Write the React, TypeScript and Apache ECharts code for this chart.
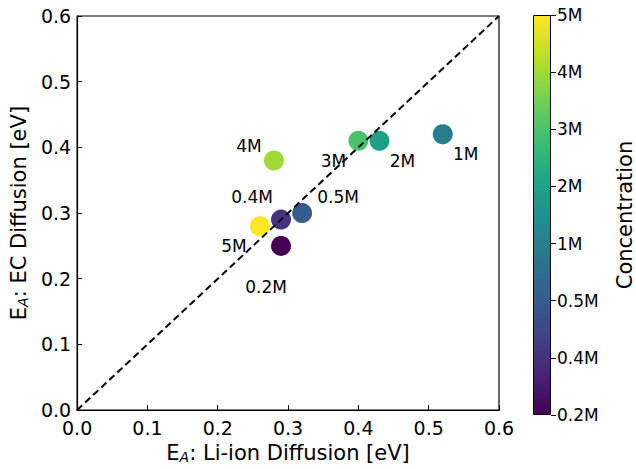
import React, { useEffect, useRef } from "react";
import * as echarts from "echarts";

const labels = ["0.2M", "0.4M", "0.5M", "1M", "2M", "3M", "4M", "5M"];
const liIon = [0.29, 0.29, 0.32, 0.52, 0.43, 0.4, 0.28, 0.26];
const ecDiff = [0.25, 0.29, 0.3, 0.42, 0.41, 0.41, 0.38, 0.28];
const colors = ["#440154", "#46337E", "#365C8D", "#277F8E", "#1FA187", "#4AC16D", "#9FDA3A", "#FDE725"];
const diagonal = [[0, 0], [0.6, 0.6]];
const viridisStops = ["#440154", "#482475", "#414487", "#355f8d", "#2a788e", "#21918c", "#22a884", "#44bf70", "#7ad151", "#bddf26", "#fde725"];

// label offsets (styling)
const labelOffsets: Record<string, number[]> = {
  "0.2M": [-15, 41],
  "0.4M": [-29, -23],
  "0.5M": [36, -16],
  "1M": [23, 20],
  "2M": [23, 20],
  "3M": [-25, 20],
  "4M": [-25, -15],
  "5M": [-26, 20],
};

const FONT = "DejaVu Sans";

export default function App() {
  const ref = useRef<HTMLDivElement>(null);
  useEffect(() => {
    const chart = echarts.init(ref.current!, null, { renderer: "svg" });
    const points = labels.map((l, i) => ({
      value: [liIon[i], ecDiff[i]],
      name: l,
      itemStyle: { color: colors[i], opacity: 1 },
      label: { offset: labelOffsets[l] },
    }));
    const tickText = { color: "#000", fontFamily: FONT, fontSize: 19 };
    const nameText = { color: "#000", fontFamily: FONT, fontSize: 21 };
    const rich = {
      sub: { fontFamily: FONT, fontSize: 14, fontStyle: "italic", verticalAlign: "bottom", padding: [9, 0, 0, 0], color: "#000" },
      n: { fontFamily: FONT, fontSize: 21, color: "#000" },
    };
    chart.setOption({
      animation: false,
      backgroundColor: "#fff",
      textStyle: { fontFamily: FONT },
      grid: [
        { left: 77, right: 137, top: 16, bottom: 54, show: true, borderColor: "#000", borderWidth: 1.2, backgroundColor: "transparent" },
        { left: 533, width: 21, top: 15, height: 400 },
      ],
      xAxis: [
        {
          gridIndex: 0, type: "value", min: 0, max: 0.6, interval: 0.1,
          axisLine: { show: true, lineStyle: { color: "#000", width: 1.2 } },
          axisTick: { show: true, inside: true, length: 5, lineStyle: { color: "#000" } },
          splitLine: { show: false },
          axisLabel: { ...tickText, margin: 8, formatter: (v: number) => v.toFixed(1) },
          name: "{n|E}{sub|A}{n|: Li-ion Diffusion [eV]}",
          nameLocation: "middle", nameGap: 29,
          nameTextStyle: { ...nameText, rich },
        },
        { gridIndex: 1, type: "category", data: ["c"], show: false },
      ],
      yAxis: [
        {
          gridIndex: 0, type: "value", min: 0, max: 0.6, interval: 0.1,
          axisLine: { show: true, lineStyle: { color: "#000", width: 1.2 } },
          axisTick: { show: true, inside: true, length: 5, lineStyle: { color: "#000" } },
          splitLine: { show: false },
          axisLabel: { ...tickText, margin: 6, formatter: (v: number) => v.toFixed(1) },
          name: "{n|E}{sub|A}{n|: EC Diffusion [eV]}",
          nameLocation: "middle", nameGap: 44, nameRotate: 90,
          nameTextStyle: { ...nameText, rich },
        },
        {
          gridIndex: 1, type: "value", min: 0, max: 7, interval: 1, position: "right",
          axisLine: { show: false },
          axisTick: { show: true, inside: false, length: 5, lineStyle: { color: "#000" } },
          splitLine: { show: false },
          axisLabel: { color: "#000", fontFamily: FONT, fontSize: 17, margin: 6, formatter: (v: number) => labels[v] ?? "" },
          name: "Concentration",
          nameLocation: "middle", nameGap: 63, nameRotate: 90,
          nameTextStyle: nameText,
        },
      ],
      series: [
        {
          type: "line", xAxisIndex: 0, yAxisIndex: 0, data: diagonal, symbol: "none",
          lineStyle: { color: "#000", width: 2, type: [7, 4] }, z: 3,
        },
        {
          type: "scatter", xAxisIndex: 0, yAxisIndex: 0, data: points, symbolSize: 20, z: 2,
          itemStyle: { opacity: 1 },
          label: {
            show: true, position: "inside", formatter: (p: any) => p.name,
            color: "#000", fontFamily: FONT, fontSize: 17,
          },
        },
        {
          type: "bar", xAxisIndex: 1, yAxisIndex: 1, data: [7], barWidth: "100%",
          itemStyle: {
            borderColor: "#000", borderWidth: 1,
            color: new echarts.graphic.LinearGradient(0, 1, 0, 0,
              viridisStops.map((c, i) => ({ offset: i / (viridisStops.length - 1), color: c }))),
          },
        },
      ],
    });
    return () => chart.dispose();
  }, []);
  return <div ref={ref} style={{ width: 636, height: 469, position: "absolute", left: 0, top: 0 }} />;
}
